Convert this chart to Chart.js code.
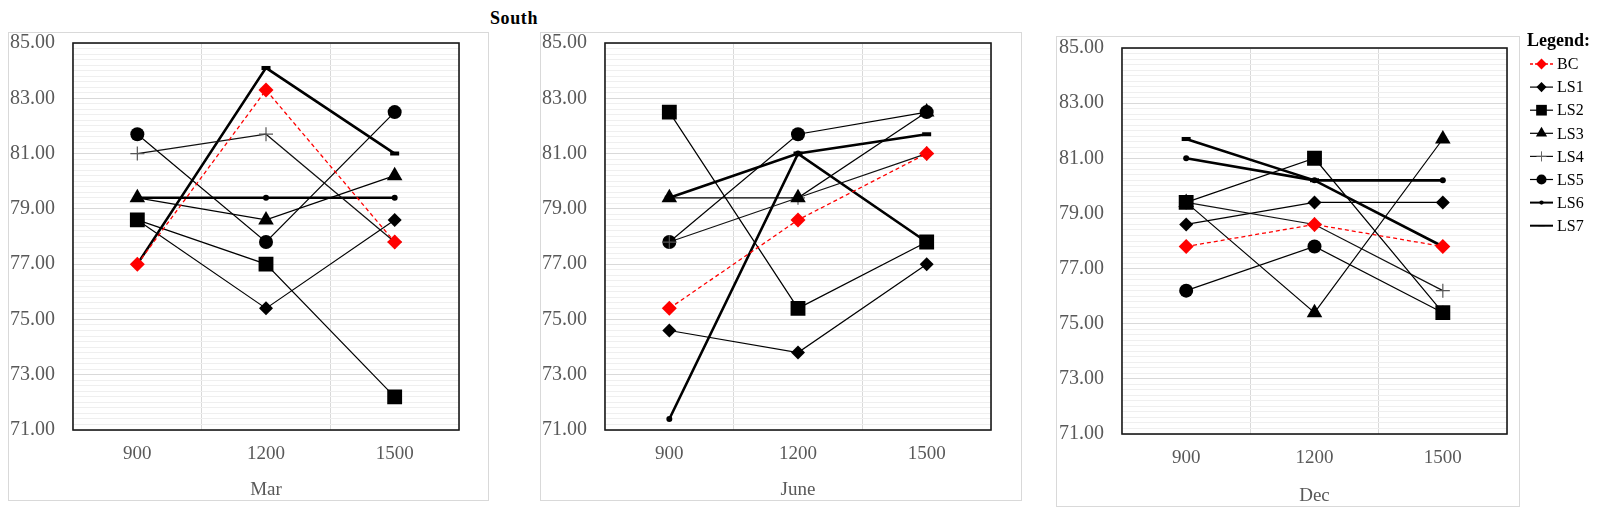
<!DOCTYPE html>
<html>
<head>
<meta charset="utf-8">
<script src="https://cdn.jsdelivr.net/npm/chart.js@4.4.1/dist/chart.umd.min.js"></script>
<style>
  body { margin: 0; background: #fff; width: 1600px; height: 507px; position: relative; overflow: hidden; }
  canvas { position: absolute; }
  #title { position: absolute; left: 464px; top: 9px; width: 100px; text-align: center;
           font: bold 18px 'Liberation Serif', serif; line-height: 18px; letter-spacing: 0.6px; color: #000; }
</style>
</head>
<body>
<div id="title">South</div>
<canvas id="chartMar" width="481" height="469" style="left:8px;top:32px"></canvas>
<canvas id="chartJune" width="482" height="469" style="left:540px;top:32px"></canvas>
<canvas id="chartDec" width="544" height="481" style="left:1056px;top:26px"></canvas>

<script>
// categories and series
const times = ["900", "1200", "1500"];
const seriesNames = ["BC", "LS1", "LS2", "LS3", "LS4", "LS5", "LS6", "LS7"];

// values per month, one row per series (BC, LS1 ... LS7)
const marValues = [
    [77.0, 83.3, 77.8],
    [78.6, 75.4, 78.6],
    [78.6, 77.0, 72.2],
    [79.4, 78.6, 80.2],
    [81.0, 81.7, 77.8],
    [81.7, 77.8, 82.5],
    [79.4, 79.4, 79.4],
    [77.0, 84.1, 81.0]
];
const juneValues = [
    [75.4, 78.6, 81.0],
    [74.6, 73.8, 77.0],
    [82.5, 75.4, 77.8],
    [79.4, 79.4, 82.5],
    [77.8, 79.4, 81.0],
    [77.8, 81.7, 82.5],
    [71.4, 81.0, 77.8],
    [79.4, 81.0, 81.7]
];
const decValues = [
    [77.8, 78.6, 77.8],
    [78.6, 79.4, 79.4],
    [79.4, 81.0, 75.4],
    [79.4, 75.4, 81.7],
    [79.4, 78.6, 76.2],
    [76.2, 77.8, 75.4],
    [81.0, 80.2, 80.2],
    [81.7, 80.2, 77.8]
];

const yMin = 71, yMax = 85;

// look of each series
const seriesStyles = [
    { line: "#ff0000", dash: [4, 3], width: 1.3, point: "rectRot", r: 7.5, fill: "#ff0000", pborder: 0 },
    { line: "#000", dash: [], width: 1.2, point: "rectRot", r: 7, fill: "#000", pborder: 0 },
    { line: "#000", dash: [], width: 1.2, point: "rect", r: 10.5, fill: "#000", pborder: 0 },
    { line: "#000", dash: [], width: 1.2, point: "triangle", r: 9, fill: "#000", pborder: 0 },
    { line: "#111", dash: [], width: 1.2, point: "cross", r: 7, fill: "#444", pborder: 1.2 },
    { line: "#000", dash: [], width: 1.2, point: "circle", r: 7, fill: "#000", pborder: 0 },
    { line: "#000", dash: [], width: 2.6, point: "circle", r: 3, fill: "#000", pborder: 0 },
    { line: "#000", dash: [], width: 2.6, point: "line", r: 4.5, fill: "#000", pborder: 4 }
];

const serif = "'Liberation Serif', 'Times New Roman', serif";
const gray = "#595959";

function isMajor(v) {
    const k = Math.round(v * 5);
    return k % 10 === 5;
}

// light outer frame and black plot border
const framePlugin = {
    id: "frame",
    beforeDraw(chart, args, opts) {
        const ctx = chart.ctx;
        ctx.save();
        ctx.strokeStyle = "#d9d9d9";
        ctx.lineWidth = 1;
        ctx.strokeRect(opts.x0 + 0.5, opts.y0 + 0.5, opts.x1 - opts.x0 - 1, opts.y1 - opts.y0 - 1);
        ctx.restore();
    },
    beforeDatasetsDraw(chart) {
        const a = chart.chartArea;
        const ctx = chart.ctx;
        ctx.save();
        ctx.strokeStyle = "#1a1a1a";
        ctx.lineWidth = 1.6;
        ctx.strokeRect(a.left, a.top, a.right - a.left, a.bottom - a.top);
        ctx.restore();
    }
};

// legend on the right of the last panel
const sideLegend = {
    id: "sideLegend",
    afterDraw(chart, args, opts) {
        if (!opts.show) return;
        const ctx = chart.ctx;
        ctx.save();
        ctx.fillStyle = "#000";
        ctx.textBaseline = "middle";
        ctx.textAlign = "left";
        ctx.font = "bold 18px " + serif;
        ctx.fillText("Legend:", opts.x, opts.y);
        chart.data.datasets.forEach((ds, i) => {
            const st = seriesStyles[i];
            const y = opts.y + opts.first + i * opts.step;
            ctx.save();
            ctx.strokeStyle = st.line;
            ctx.lineWidth = Math.min(st.width, 2);
            ctx.setLineDash(st.dash.length ? [3, 2] : []);
            ctx.beginPath();
            ctx.moveTo(opts.x + 3, y);
            ctx.lineTo(opts.x + 26, y);
            ctx.stroke();
            ctx.restore();
            ctx.save();
            ctx.fillStyle = st.fill;
            ctx.strokeStyle = st.point === "cross" ? "#666" : st.fill;
            Chart.helpers.drawPoint(ctx, {
                pointStyle: st.point,
                radius: st.r * 0.72,
                borderWidth: st.point === "cross" ? 1 : st.pborder,
                rotation: 0
            }, opts.x + 14.5, y);
            ctx.restore();
            ctx.fillStyle = "#000";
            ctx.font = "16px " + serif;
            ctx.fillText(seriesNames[i], opts.x + 30, y + 1);
        });
        ctx.restore();
    }
};

function makeChart(id, month, values, box) {
    const datasets = values.map((vals, i) => {
        const st = seriesStyles[i];
        return {
            label: seriesNames[i],
            data: vals,
            borderColor: st.line,
            borderWidth: st.width,
            borderDash: st.dash,
            pointStyle: st.point,
            pointRadius: st.r,
            pointBackgroundColor: st.fill,
            pointBorderColor: st.point === "cross" ? "#555" : st.fill,
            pointBorderWidth: st.pborder,
            fill: false,
            tension: 0
        };
    });

    return new Chart(document.getElementById(id), {
        type: "line",
        data: { labels: times, datasets: datasets },
        options: {
            responsive: false,
            animation: false,
            events: [],
            layout: { padding: { left: 0, right: box.right, top: box.top, bottom: 0 } },
            scales: {
                x: {
                    type: "category",
                    offset: true,
                    afterFit(scale) {
                        scale.height = box.xHeight;
                        scale.paddingLeft = 0;
                        scale.paddingRight = 0;
                    },
                    grid: { offset: true, drawTicks: false, color: "#d9d9d9", lineWidth: 1 },
                    border: { display: false },
                    ticks: { padding: 13, color: gray, font: { family: serif, size: 19 } },
                    title: { display: true, text: month, color: gray, padding: 0,
                             font: { family: serif, size: 19 } }
                },
                y: {
                    min: yMin,
                    max: yMax,
                    afterFit(scale) {
                        // keep the plot box where the picture has it
                        scale.width = box.left;
                        scale.paddingTop = 0;
                        scale.paddingBottom = 0;
                    },
                    grid: {
                        drawTicks: false,
                        lineWidth: 1,
                        color: (c) => isMajor(c.tick.value) ? "#d9d9d9" : "#efefef"
                    },
                    border: { display: false },
                    ticks: {
                        stepSize: 0.2,
                        autoSkip: false,
                        padding: 18,
                        color: gray,
                        font: { family: serif, size: 20, lineHeight: 1.05 },
                        callback: (v) => isMajor(v) ? (Math.round(v * 5) / 5).toFixed(2) : ""
                    }
                }
            },
            plugins: {
                legend: { display: false },
                tooltip: { enabled: false },
                frame: box.frame,
                sideLegend: box.legend || { show: false }
            }
        },
        plugins: [framePlugin, sideLegend]
    });
}

makeChart("chartMar", "Mar", marValues, {
    left: 65, right: 30, top: 11, xHeight: 71,
    frame: { x0: 0, y0: 0, x1: 481, y1: 469 }
});
makeChart("chartJune", "June", juneValues, {
    left: 65, right: 31, top: 11, xHeight: 71,
    frame: { x0: 0, y0: 0, x1: 482, y1: 469 }
});
makeChart("chartDec", "Dec", decValues, {
    left: 66, right: 93, top: 22, xHeight: 73,
    frame: { x0: 0, y0: 10, x1: 464, y1: 481 },
    legend: { show: true, x: 471, y: 15.5, first: 22.5, step: 23.1 }
});
</script>
</body>
</html>
